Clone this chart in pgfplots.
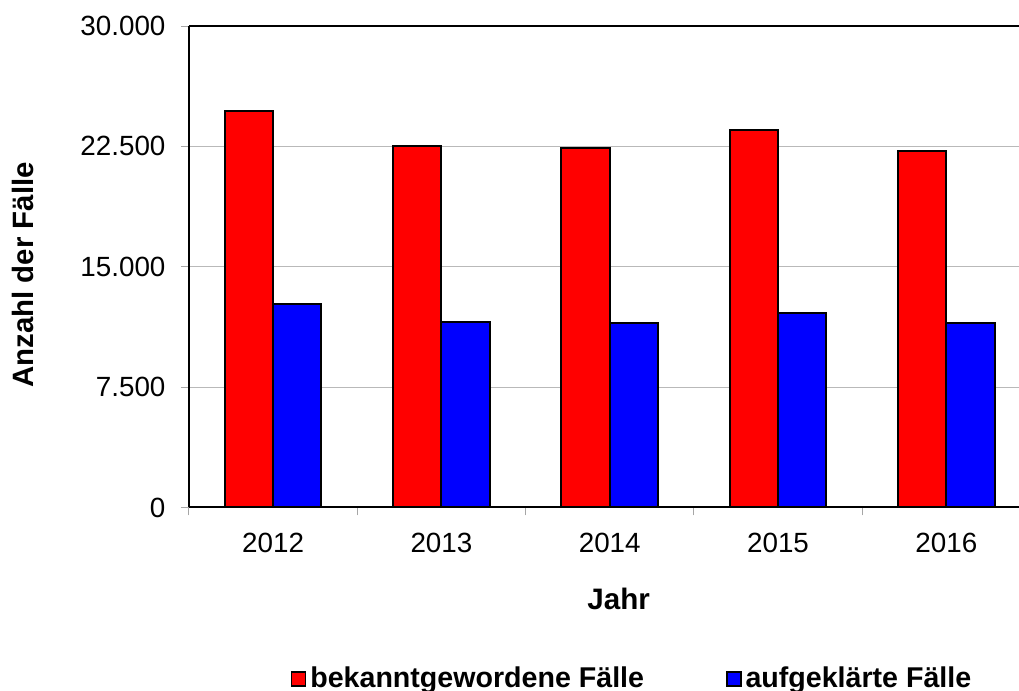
\documentclass[border=0pt]{standalone}
\usepackage{fontspec}
\setmainfont{Liberation Sans}
\usepackage{pgfplots}
\pgfplotsset{compat=1.18}
\definecolor{barred}{RGB}{255,0,0}
\definecolor{barblue}{RGB}{0,0,255}
\begin{document}
\begin{tikzpicture}
\path[use as bounding box] (0,0) rectangle (509.5pt,345.5pt);
\begin{axis}[
  at={(94.5pt,91.75pt)}, anchor=south west,
  width=415pt, height=240.75pt, scale only axis,
  xmin=-0.5, xmax=4.432, ymin=0, ymax=30000,
  enlargelimits=false,
  scaled y ticks=false,
  axis x line=box, axis y line=left,
  axis line style={-, line width=1pt, black},
  ybar=0pt, bar width=24.15pt,
  ytick={0,7500,15000,22500,30000},
  yticklabels={0,7.500,15.000,22.500,30.000},
  xtick={-0.5,0.5,1.5,2.5,3.5}, xticklabels={},
  extra x ticks={0,1,2,3,4},
  extra x tick labels={2012,2013,2014,2015,2016},
  extra x tick style={major tick length=0pt, grid=none,
    xticklabel style={yshift=-9.5pt}},
  tick align=outside, xtick pos=left, ytick pos=left,
  major tick length=4pt,
  tick style={gray!70, line width=0.5pt},
  ymajorgrids, grid style={gray!55, line width=0.5pt},
  tick label style={font=\fontsize{13.9}{16}\selectfont},
  yticklabel style={xshift=-4.25pt},
  xlabel={Jahr}, ylabel={Anzahl der Fälle},
  every axis x label/.style={at={(rel axis cs:0.5177,0)}, anchor=center, yshift=-45.75pt, font=\bfseries\fontsize{14.8}{17}\selectfont},
  every axis y label/.style={at={(rel axis cs:-0.2006,0.4829)}, rotate=90, anchor=center, font=\bfseries\fontsize{14.7}{17}\selectfont},
  legend style={at={(0.535,-0.3562)}, anchor=center, draw=none, fill=none,
    legend columns=2, font=\bfseries\fontsize{14.3}{16}\selectfont,
    /tikz/every even column/.append style={column sep=39pt}},
  legend image code/.code={\draw[#1,draw=black,line width=0.75pt] (0.75pt,-3.5pt) rectangle (7.75pt,3.5pt);},
]
\addplot[fill=barred, draw=black, line width=1pt] coordinates {(0,24720) (1,22520) (2,22390) (3,23520) (4,22190)};
\addplot[fill=barblue, draw=black, line width=1pt] coordinates {(0,12680) (1,11570) (2,11510) (3,12100) (4,11510)};
\legend{bekanntgewordene Fälle, aufgeklärte Fälle}
\end{axis}
\end{tikzpicture}
\end{document}
